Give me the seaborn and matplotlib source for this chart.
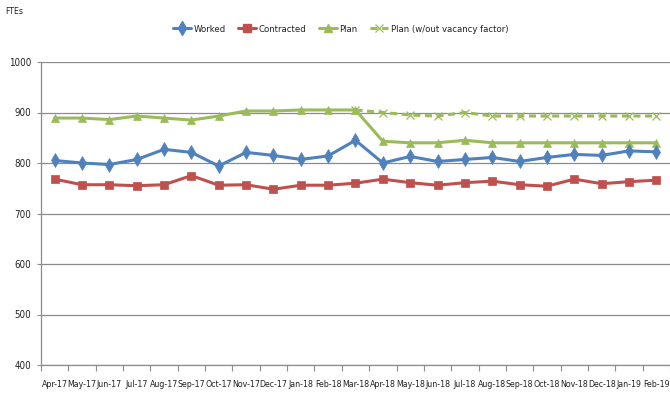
import numpy as np
import pandas as pd
import matplotlib
matplotlib.use("Agg")
import matplotlib.pyplot as plt
from matplotlib.lines import Line2D
import seaborn as sns

months = ["Apr-17", "May-17", "Jun-17", "Jul-17", "Aug-17", "Sep-17", "Oct-17",
          "Nov-17", "Dec-17", "Jan-18", "Feb-18", "Mar-18", "Apr-18", "May-18",
          "Jun-18", "Jul-18", "Aug-18", "Sep-18", "Oct-18", "Nov-18", "Dec-18",
          "Jan-19", "Feb-19"]
worked = [805, 800, 797, 807, 827, 821, 794, 821, 815, 807, 814, 845, 800, 813,
          803, 807, 811, 803, 811, 817, 815, 824, 822]
contracted = [768, 757, 757, 755, 757, 775, 756, 757, 748, 756, 756, 760, 768,
              761, 756, 761, 764, 757, 754, 768, 759, 763, 766]
plan = [889, 889, 886, 893, 889, 885, 893, 903, 903, 905, 905, 905, 843, 840,
        840, 845, 840, 840, 840, 840, 840, 840, 840]
plan_no_vac_months = months[11:]
plan_no_vac = [905, 900, 895, 893, 900, 893, 893, 893, 893, 893, 893, 893]

sns.set_theme(style="white")
plt.rcParams["font.family"] = ["DejaVu Sans"]
plt.rcParams["font.stretch"] = "condensed"

BLUE, RED, GREEN = "#4F81BD", "#C0504D", "#9BBB59"
GRID = "#8C8C8C"
TXT = "#222222"

fig = plt.figure(figsize=(6.7, 3.99), dpi=100)
ax = fig.add_axes([41 / 670, 1 - 365 / 399, 1 - 41 / 670, (365 - 62) / 399])

pos = {m: i for i, m in enumerate(months)}
x_all = np.array([pos[m] for m in months])
x_nv = np.array([pos[m] for m in plan_no_vac_months])

lw = 2.2
dash = (0, (2.3, 1.5))
sns.lineplot(x=x_all, y=plan, ax=ax, color=GREEN, lw=lw, marker="^", ms=6,
             mec=GREEN, mew=0.5, zorder=3)
sns.lineplot(x=x_nv, y=plan_no_vac, ax=ax, color=GREEN, lw=lw, ls=dash,
             marker="x", ms=6, mec=GREEN, mew=0.9, zorder=3)
sns.lineplot(x=x_all, y=contracted, ax=ax, color=RED, lw=lw, marker="s", ms=5.5,
             mec=RED, mew=0.5, zorder=4)
sns.lineplot(x=x_all, y=worked, ax=ax, color=BLUE, lw=lw, marker="d", ms=7,
             mec=BLUE, mew=0.5, zorder=5)

ax.set_xlim(-0.5, len(months) - 0.5)
ax.set_ylim(400, 1000)
ax.set_yticks(np.arange(400, 1001, 100))
ax.set_xticks(x_all)
ax.set_xticklabels(months)
ax.set_xticks(np.arange(-0.5, len(months), 1), minor=True)
ax.tick_params(axis="x", which="major", length=0, pad=11, labelsize=6.3,
               colors=TXT)
ax.tick_params(axis="x", which="minor", length=4, width=0.8, color=GRID,
               direction="out", bottom=True)
ax.tick_params(axis="y", which="major", length=3, width=0.8, color=GRID,
               direction="out", left=True, pad=4, labelsize=7, colors=TXT)
ax.set_xlabel("")
ax.set_ylabel("")

ax.grid(axis="y", color=GRID, lw=0.9, zorder=0)
ax.set_axisbelow(True)
for s in ("top", "right"):
    ax.spines[s].set_visible(False)
for s in ("left", "bottom"):
    ax.spines[s].set_color(GRID)
    ax.spines[s].set_linewidth(0.9)

fig.text(5 / 670, 1 - 12 / 399, "FTEs", fontsize=6.2, va="center", ha="left",
         color=TXT)

handles = [
    Line2D([], [], color=BLUE, lw=lw, marker="d", ms=7, mec=BLUE),
    Line2D([], [], color=RED, lw=lw, marker="s", ms=5.5, mec=RED),
    Line2D([], [], color=GREEN, lw=lw, marker="^", ms=6, mec=GREEN),
    Line2D([], [], color=GREEN, lw=lw, ls=dash, marker="x", ms=6,
           mec=GREEN, mew=0.9),
]
labels = ["Worked", "Contracted", "Plan", "Plan (w/out vacancy factor)"]
leg = fig.legend(handles, labels, loc="center", bbox_to_anchor=(0.508, 1 - 29 / 399),
                 ncol=4, frameon=False, fontsize=6.8, handlelength=1.9,
                 handletextpad=0.3, columnspacing=1.3)
for t in leg.get_texts():
    t.set_color(TXT)

fig.savefig("out.png", dpi=100)
